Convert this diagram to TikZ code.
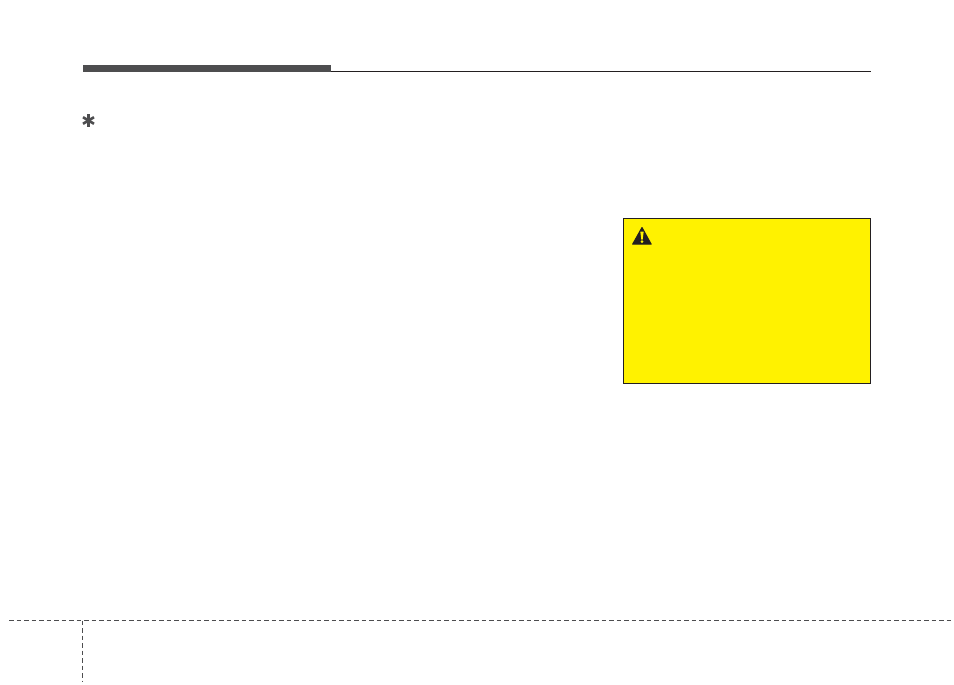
\documentclass[tikz,border=0pt]{standalone}
\definecolor{hdrgrey}{RGB}{77,77,79}
\definecolor{inkdark}{RGB}{35,31,32}
\definecolor{warnyellow}{RGB}{255,242,0}
\tikzset{
  headerbar/.style={fill=hdrgrey,draw=none},
  headerrule/.style={draw=inkdark,line width=1pt},
  footdash/.style={draw=hdrgrey,line width=1pt,dash pattern=on 4.5pt off 3pt},
  warnbox/.style={draw=inkdark,line width=1pt,fill=warnyellow},
  starline/.style={draw=hdrgrey,line width=2.6pt},
}
\begin{document}
\begin{tikzpicture}[x=1pt,y=-1pt]
\useasboundingbox (0,0) rectangle (954,685);
% header
\fill[headerbar] (83,65) rectangle (331,72);
\draw[headerrule] (331,71.5) -- (871,71.5);
% asterisk
\draw[starline] (88.5,114.2) -- (88.5,126.8);
\draw[starline] (83,117.2) -- (94,123.8);
\draw[starline] (83,123.8) -- (94,117.2);
% warning box
\draw[warnbox] (623.5,218.5) rectangle (870.5,383.5);
\fill[inkdark,line join=round,draw=inkdark,line width=1pt] (642,227.5) -- (651.2,244.2) -- (632.6,244.2) -- cycle;
\fill[warnyellow] (640.3,231.5) -- (643.7,231.5) -- (642.7,239.5) -- (641.3,239.5) -- cycle;
\fill[warnyellow] (642,241.7) circle (1.5);
% footer
\draw[footdash] (9,620.5) -- (952,620.5);
\draw[footdash] (82.5,620.5) -- (82.5,682);
\end{tikzpicture}
\end{document}
